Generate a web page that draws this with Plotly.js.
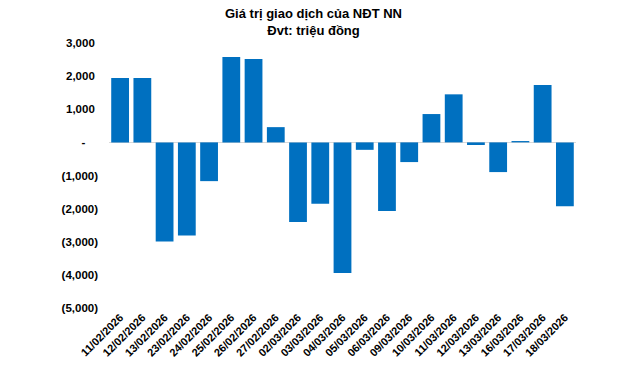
<!DOCTYPE html>
<html>
<head>
<meta charset="utf-8">
<script src="https://cdn.plot.ly/plotly-3.0.1.min.js"></script>
<style>html,body{margin:0;padding:0;background:#fff;}#chart{width:640px;height:370px;}</style>
</head>
<body>
<div id="chart"></div>
<script>
const dates = ["11/02/2026","12/02/2026","13/02/2026","23/02/2026","24/02/2026","25/02/2026","26/02/2026","27/02/2026","02/03/2026","03/03/2026","04/03/2026","05/03/2026","06/03/2026","09/03/2026","10/03/2026","11/03/2026","12/03/2026","13/03/2026","16/03/2026","17/03/2026","18/03/2026"];
const netValues = [1940, 1940, -2990, -2810, -1170, 2580, 2520, 460, -2400, -1855, -3940, -225, -2070, -595, 855, 1450, -80, -897, 40, 1730, -1925];
const yTickVals = [-5000, -4000, -3000, -2000, -1000, 0, 1000, 2000, 3000];
const yTickText = ["(5,000)", "(4,000)", "(3,000)", "(2,000)", "(1,000)", "-\u00a0\u00a0\u00a0\u00a0", "1,000\u00a0", "2,000\u00a0", "3,000\u00a0"];
const titleText = "Giá trị giao dịch của NĐT NN<br>Đvt: triệu đồng";

const font = "Liberation Sans, Arial, sans-serif";
Plotly.newPlot("chart", [{
  type: "bar",
  x: dates,
  y: netValues,
  marker: {color: "#0070C0"},
  hoverinfo: "x+y"
}], {
  width: 640, height: 370,
  margin: {l: 109, r: 64, t: 43, b: 62},
  paper_bgcolor: "#fff", plot_bgcolor: "#fff",
  bargap: 0.2,
  showlegend: false,
  annotations: [{
    text: titleText, showarrow: false,
    xref: "paper", yref: "paper", x: 0.437, xanchor: "center",
    y: 1.148, yanchor: "top", align: "center",
    font: {family: font, size: 13, color: "#000", weight: "bold"}
  }],
  xaxis: {type: "category", tickangle: -45, showgrid: false, showline: false, zeroline: false,
          ticks: "", tickfont: {family: font, size: 11, color: "#000", weight: "bold"}},
  yaxis: {range: [-5000, 3000], tickvals: yTickVals, ticktext: yTickText, showgrid: false,
          showline: false, zeroline: true, zerolinecolor: "#d9d9d9", zerolinewidth: 1.5,
          ticks: "", ticklabelstandoff: 10,
          tickfont: {family: font, size: 11.5, color: "#000", weight: "bold"}}
}, {displayModeBar: false, staticPlot: true});
</script>
</body>
</html>
